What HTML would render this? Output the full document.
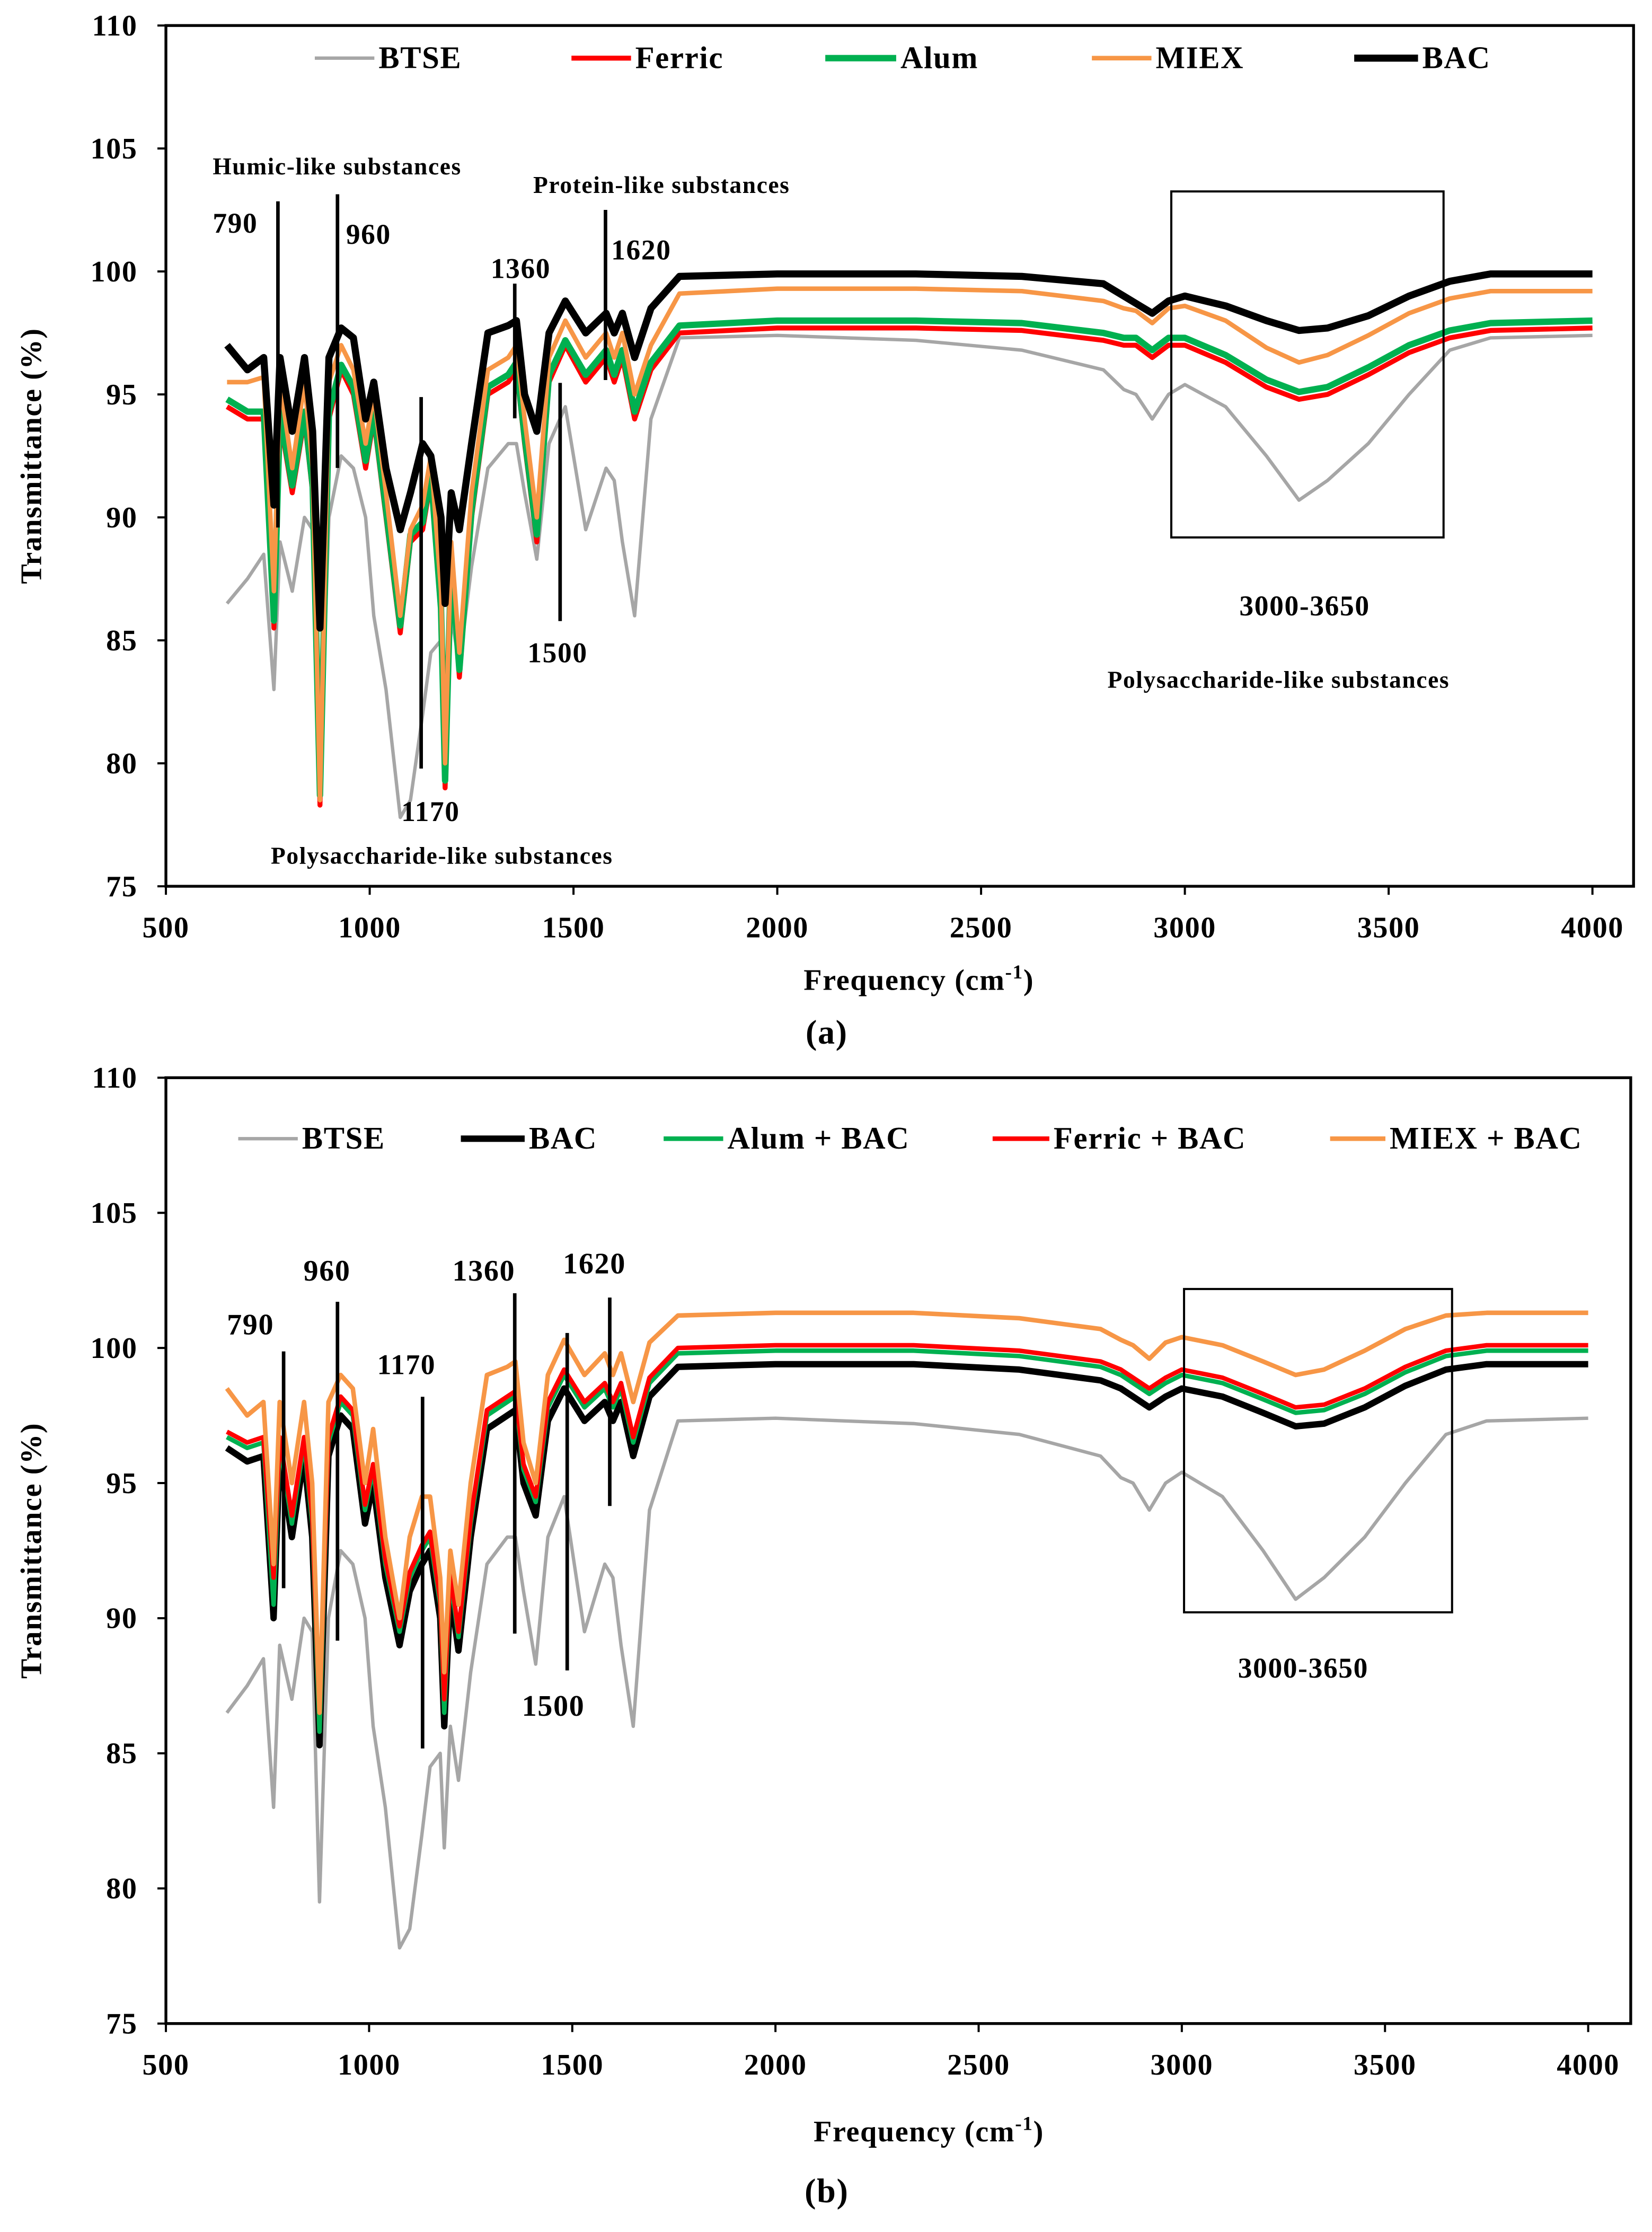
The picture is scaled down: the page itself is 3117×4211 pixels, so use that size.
<!DOCTYPE html>
<html><head><meta charset="utf-8"><style>
html,body{margin:0;padding:0;background:#fff;}
svg{display:block;}
text{font-family:"Liberation Serif",serif;font-weight:bold;fill:#000;letter-spacing:0.6px;}
</style></head><body>
<svg id="fig" width="3117" height="4211" viewBox="0 0 1165 1574" preserveAspectRatio="none" xmlns="http://www.w3.org/2000/svg"></svg>
<script>
const freq=[650,700,740,765,780,810,840,860,878,900,930,960,990,1010,1040,1075,1100,1130,1150,1175,1185,1200,1220,1250,1290,1340,1360,1380,1410,1440,1480,1530,1580,1600,1620,1650,1690,1760,2000,2340,2600,2800,2850,2880,2920,2960,3000,3100,3200,3280,3350,3450,3550,3650,3750,4000];
const btse=[86.5,87.5,88.5,83,89,87,90,89.5,79.5,90,92.5,92,90,86,83,77.8,78.5,82,84.5,85,81.5,86,84,88,92,93,93,91,88.3,93,94.5,89.5,92,91.5,89,86,94,97.3,97.4,97.2,96.8,96,95.2,95,94,95,95.4,94.5,92.5,90.7,91.5,93,95,96.8,97.3,97.4];
const ferricA=[94.5,94,94,85.5,94,91,94,91,78.3,94,96,95,92,94,90,85.3,89,89.5,91.5,86,79,88,83.5,90,95,95.5,96,93,89,95.5,97,95.5,96.5,95.5,96.5,94,96,97.5,97.7,97.7,97.6,97.2,97,97,96.5,97,97,96.3,95.3,94.8,95,95.8,96.7,97.3,97.6,97.7];
const alumA=[94.8,94.3,94.3,85.8,94.3,91.3,94.3,91.3,78.7,94.3,96.2,95.3,92.3,94.3,90.3,85.6,89.3,89.8,91.8,86.3,79.3,88.3,83.8,90.3,95.3,95.8,96.3,93.3,89.3,95.8,97.2,95.8,96.8,95.8,96.8,94.3,96.3,97.8,98,98,97.9,97.5,97.3,97.3,96.8,97.3,97.3,96.6,95.6,95.1,95.3,96.1,97,97.6,97.9,98];
const miexA=[95.5,95.5,95.7,87,95.5,92,95.5,92,78.5,95.5,97,96,93,95,91,86,89.5,90.5,92.5,87,80,89,84.5,91,96,96.5,97,94,90,96.5,98,96.5,97.5,96.5,97.5,95,97,99.1,99.3,99.3,99.2,98.8,98.5,98.4,97.9,98.5,98.6,98,96.9,96.3,96.6,97.4,98.3,98.9,99.2,99.2];
const bacA=[97,96,96.5,90.5,96.5,93.5,96.5,93.5,85.5,96.5,97.7,97.3,94,95.5,92,89.5,91,93,92.5,90,86.5,91,89.5,93,97.5,97.8,98,95,93.5,97.5,98.8,97.5,98.3,97.5,98.3,96.5,98.5,99.8,99.9,99.9,99.8,99.5,99,98.7,98.3,98.8,99,98.6,98,97.6,97.7,98.2,99,99.6,99.9,99.9];
const bacB=[96.3,95.8,96,90,96,93,96,93,85.3,96,97.5,97,93.5,95,91.5,89,91,92,92.5,90,86,91,88.8,93,97,97.5,97.7,95,93.8,97.3,98.5,97.3,98,97.3,98,96,98.2,99.3,99.4,99.4,99.2,98.8,98.5,98.2,97.8,98.2,98.5,98.2,97.6,97.1,97.2,97.8,98.6,99.2,99.4,99.4];
const alumB=[96.7,96.3,96.5,90.5,96.5,93.5,96.5,93.5,85.8,96.5,98,97.5,94,95.5,92,89.5,91.5,92.5,93,90.5,86.5,91.5,89.3,93.5,97.5,98,98.2,95.5,94.3,97.8,99,97.8,98.5,97.8,98.5,96.5,98.7,99.8,99.9,99.9,99.7,99.3,99,98.7,98.3,98.7,99,98.7,98.1,97.6,97.7,98.3,99.1,99.7,99.9,99.9];
const ferricB=[96.9,96.5,96.7,91.5,96.7,93.8,96.7,93.8,86.5,96.7,98.2,97.7,94.2,95.7,92.2,89.7,91.7,92.7,93.2,90.7,87,91.7,89.5,93.7,97.7,98.2,98.4,95.7,94.5,98,99.2,98,98.7,98,98.7,96.7,98.9,100,100.1,100.1,99.9,99.5,99.2,98.9,98.5,98.9,99.2,98.9,98.3,97.8,97.9,98.5,99.3,99.9,100.1,100.1];
const miexB=[98.5,97.5,98,92,98,95,98,95,86.5,98,99,98.5,95,97,93,90,93,94.5,94.5,91.5,88,92.5,90.5,95,99,99.3,99.5,96.5,95,99,100.3,99,99.8,99,99.8,98,100.2,101.2,101.3,101.3,101.1,100.7,100.3,100.1,99.6,100.2,100.4,100.1,99.5,99,99.2,99.9,100.7,101.2,101.3,101.3];
const xTicks=[500,1000,1500,2000,2500,3000,3500,4000];
const yTicks=[75,80,85,90,95,100,105,110];

const NS="http://www.w3.org/2000/svg";
const svg=document.getElementById('fig');
function mk(tag,attrs,parent,txt){const e=document.createElementNS(NS,tag);for(const k in attrs)e.setAttribute(k,attrs[k]);if(txt!==undefined)e.textContent=txt;(parent||svg).appendChild(e);return e;}

function panel(cfg){
  const g=mk('g',{});
  
  
  const X=v=>cfg.x0+(v-500)/3500*(cfg.x4000-cfg.x0);
  const Y=v=>cfg.yTop+(110-v)/35*(cfg.yBot-cfg.yTop);
  const box=mk('rect',{x:cfg.x0,y:cfg.yTop,width:cfg.xR-cfg.x0,height:cfg.yBot-cfg.yTop,fill:'none',stroke:'#000','stroke-width':2},g);
  
  
  xTicks.forEach(t=>{
    mk('line',{x1:X(t),x2:X(t),y1:cfg.yBot,y2:cfg.yBot+6,stroke:'#000','stroke-width':1.5},g);
    const tx=mk('text',{x:X(t),y:cfg.yBot+36,'text-anchor':'middle','font-size':21},g,String(t));
    
    
  });
  yTicks.forEach(t=>{
    mk('line',{x1:cfg.x0-6,x2:cfg.x0,y1:Y(t),y2:Y(t),stroke:'#000','stroke-width':1.5},g);
    const tx=mk('text',{x:cfg.x0-20,y:Y(t)+7,'text-anchor':'end','font-size':21},g,String(t));
    
    
  });
  const yt=mk('text',{x:0,y:0,'text-anchor':'middle','font-size':21,transform:`translate(${cfg.ytX},${(cfg.yTop+cfg.yBot)/2}) rotate(-90)`},g,'Transmittance (%)');
  
  
  const xt=mk('text',{x:cfg.xtX,y:cfg.xtY,'text-anchor':'middle','font-size':21},g);
  
  
  xt.appendChild(document.createTextNode('Frequency (cm'));
  mk('tspan',{'font-size':14,dy:-8},xt,'-1');
  mk('tspan',{dy:8},xt,')');
  cfg.series.forEach(s=>{
    const d=freq.map((f,i)=>(i?'L':'M')+X(f).toFixed(2)+' '+Y(s.data[i]).toFixed(2)).join(' ');
    const p=mk('path',{d:d,fill:'none',stroke:s.color,'stroke-width':s.w,'stroke-linejoin':'round'},g);
    
    
  });
  cfg.legend.forEach(l=>{
    const s=cfg.series.find(q=>q.key===l.key);
    const le=mk('g',{},g);
    
    
    mk('line',{x1:l.x1,x2:l.x2,y1:cfg.legY,y2:cfg.legY,stroke:s.color,'stroke-width':s.w},le);
    mk('text',{x:l.x2+3,y:cfg.legY+7,'font-size':22},le,l.label);
  });
  cfg.lines.forEach(a=>{
    const ln=mk('line',{x1:a[0],x2:a[0],y1:a[1],y2:a[2],stroke:'#000','stroke-width':2.5},g);
    
    
  });
  cfg.texts.forEach(a=>{
    const t=mk('text',{x:a[0],y:a[1],'font-size':a[3]||20,'letter-spacing':'1px'},g,a[2]);
    
    
  });
  const rb=mk('rect',{x:cfg.rect[0],y:cfg.rect[1],width:cfg.rect[2]-cfg.rect[0],height:cfg.rect[3]-cfg.rect[1],fill:'none',stroke:'#000','stroke-width':1.5},g);
  
  
  const pl=mk('text',{x:cfg.plX,y:cfg.plY,'text-anchor':'middle','font-size':24,'font-weight':'normal'},g,cfg.plabel);
  
  
}
const C={gray:'#a6a6a6',red:'#ff0000',green:'#00b050',orange:'#f79646',black:'#000'};
panel({name:'panel-a',x0:117,x4000:1123,xR:1152,yTop:18,yBot:625,ytX:29,xtX:648,xtY:698,legY:41,
 series:[{key:'btse',data:btse,color:C.gray,w:2.4},{key:'ferric',data:ferricA,color:C.red,w:3.5},{key:'alum',data:alumA,color:C.green,w:4.5},{key:'miex',data:miexA,color:C.orange,w:3.2},{key:'bac',data:bacA,color:C.black,w:5}],
 legend:[{key:'btse',x1:222,x2:264,label:'BTSE'},{key:'ferric',x1:403,x2:445,label:'Ferric'},{key:'alum',x1:582,x2:632,label:'Alum'},{key:'miex',x1:770,x2:812,label:'MIEX'},{key:'bac',x1:955,x2:1000,label:'BAC'}],
 lines:[[196,142,372],[238,137,330],[297,280,542],[363,200,295],[395,270,438],[427,148,268]],
 texts:[[150,123,'Humic-like substances',17],[150,164,'790'],[244,172,'960'],[346,196,'1360'],[431,183,'1620'],[376,136,'Protein-like substances',17],[372,467,'1500'],[283,579,'1170'],[191,609,'Polysaccharide-like substances',17],[874,434,'3000-3650'],[781,485,'Polysaccharide-like substances',17]],
 rect:[826,135,1018,379],plX:583,plY:736,plabel:'(a)'});
panel({name:'panel-b',x0:117,x4000:1120,xR:1150,yTop:760,yBot:1427,ytX:29,xtX:655,xtY:1510,legY:803,
 series:[{key:'btse',data:btse,color:C.gray,w:2.4},{key:'bac',data:bacB,color:C.black,w:4.5},{key:'alum-bac',data:alumB,color:C.green,w:3.2},{key:'ferric-bac',data:ferricB,color:C.red,w:3.2},{key:'miex-bac',data:miexB,color:C.orange,w:3.2}],
 legend:[{key:'btse',x1:168,x2:210,label:'BTSE'},{key:'bac',x1:325,x2:370,label:'BAC'},{key:'alum-bac',x1:468,x2:510,label:'Alum + BAC'},{key:'ferric-bac',x1:700,x2:740,label:'Ferric + BAC'},{key:'miex-bac',x1:938,x2:977,label:'MIEX + BAC'}],
 lines:[[200,953,1120],[238,918,1157],[298,985,1233],[363,912,1152],[400,940,1178],[430,915,1062]],
 texts:[[160,941,'790',21],[214,903,'960',21],[266,969,'1170',20],[319,903,'1360',21],[397,898,'1620',21],[368,1210,'1500',21],[873,1183,'3000-3650',20]],
 rect:[835,909,1024,1137],plX:583,plY:1553,plabel:'(b)'});
</script>
</body></html>
